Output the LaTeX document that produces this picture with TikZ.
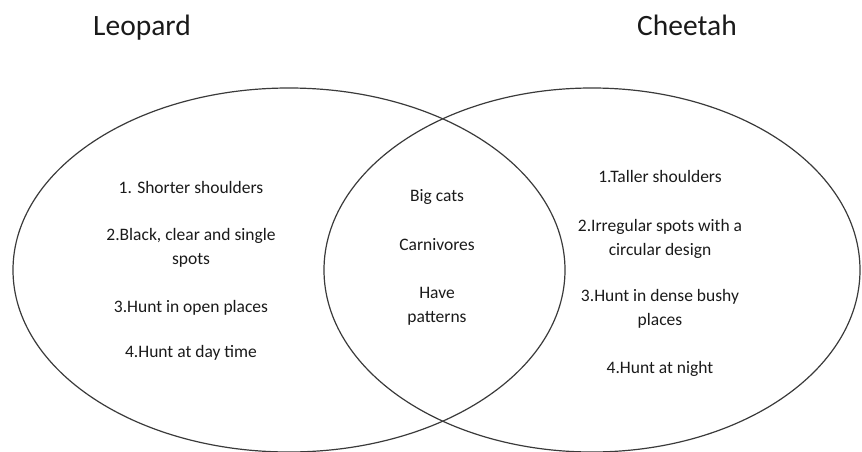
\documentclass[tikz,border=0pt]{standalone}
\usepackage{fontspec}
\setmainfont{Carlito}
\usetikzlibrary{shapes.geometric}
\definecolor{ink}{HTML}{1A1A1A}
\definecolor{linegray}{HTML}{3A3A3A}
\tikzset{
  setcircle/.style={draw=linegray, line width=1.2pt, ellipse, inner sep=0pt},
  title/.style={text=ink, font=\fontsize{29.5}{32}\selectfont, inner sep=0pt, anchor=base},
  item/.style={text=ink, font=\fontsize{17.5}{24}\selectfont, align=center, inner sep=0pt},
}
\begin{document}
\begin{tikzpicture}[x=1pt,y=-1pt]
\useasboundingbox (0,0) rectangle (862,452);
\node[setcircle, minimum width=552pt, minimum height=364pt] (leo) at (289,270) {};
\node[setcircle, minimum width=536pt, minimum height=364pt] (che) at (592,270) {};
\node[title] (tleo) at (142,36) {Leopard};
\node[title] (tche) at (687,36) {Cheetah};
% left
\node[item] (l1) at (191,187) {1. Shorter shoulders};
\node[item] (l2) at (191,248) {2.Black, clear and single\\spots};
\node[item] (l3) at (191,308) {3.Hunt in open places};
\node[item] (l4) at (191,353) {4.Hunt at day time};
% middle
\node[item] (m1) at (437,197) {Big cats};
\node[item] (m2) at (437,245) {Carnivores};
\node[item] (m3) at (437,306) {Have\\patterns};
% right
\node[item] (r1) at (660,176) {1.Taller shoulders};
\node[item] (r2) at (660,239) {2.Irregular spots with a\\circular design};
\node[item] (r3) at (660,309) {3.Hunt in dense bushy\\places};
\node[item] (r4) at (660,369) {4.Hunt at night};
\end{tikzpicture}
\end{document}
